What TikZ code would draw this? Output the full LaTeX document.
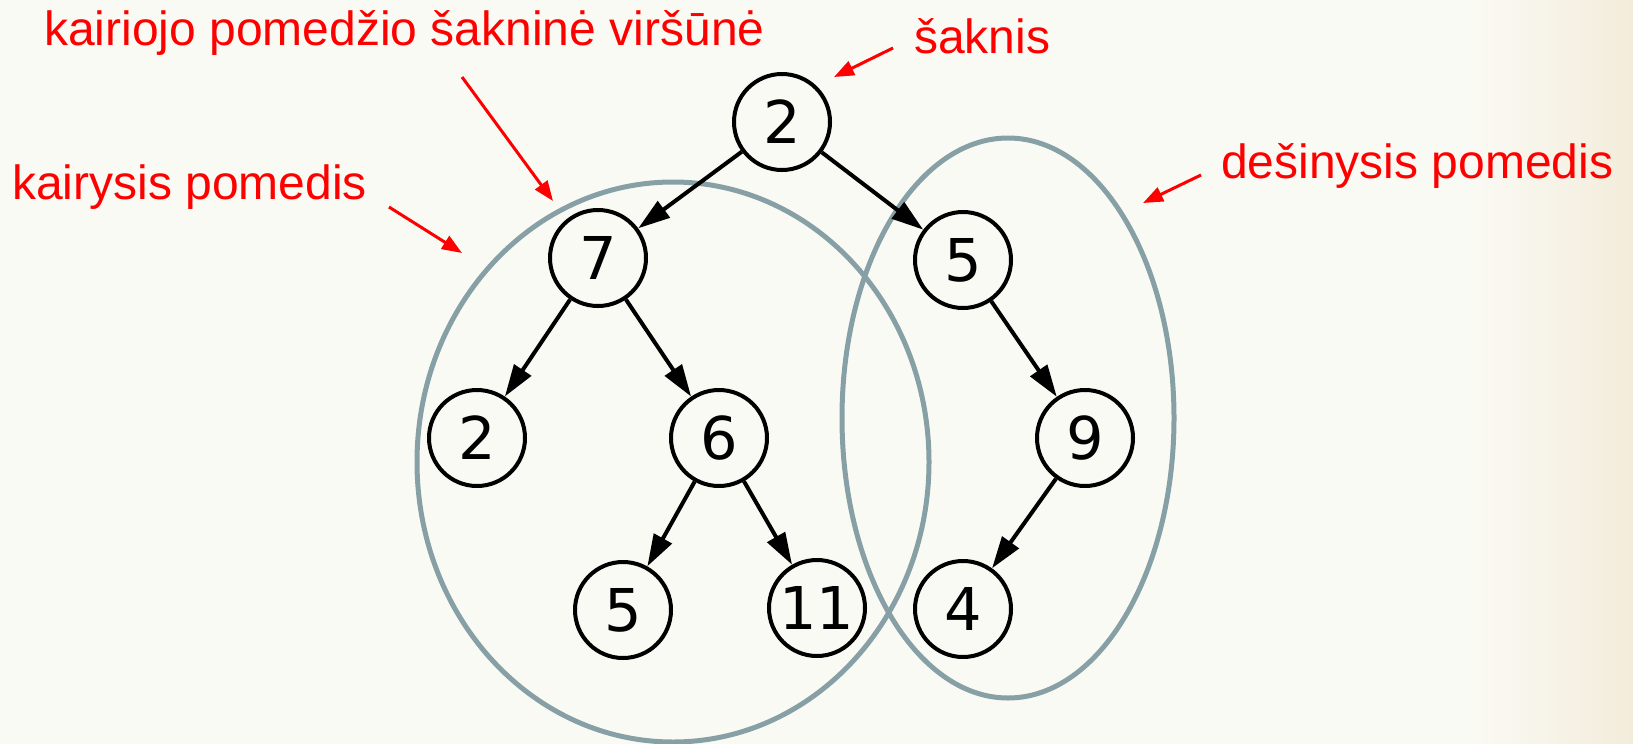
\documentclass[tikz,border=0pt]{standalone}
\usepackage{fontspec}
\setmainfont{Liberation Sans}
\newfontfamily\digitfont{DejaVu Sans}
\usetikzlibrary{arrows.meta}
\definecolor{ellgray}{HTML}{87A0A5}
\definecolor{bgbase}{HTML}{FAFAF4}
\definecolor{bgright}{HTML}{F3ECDB}
\begin{document}
\begin{tikzpicture}[x=1pt,y=-1pt,
  treenode/.style={circle, draw=black, line width=4pt, minimum size=96pt, inner sep=0pt,
    font=\digitfont\fontsize{59}{61}\selectfont},
  edge/.style={draw=black, line width=4pt, -{Triangle[length=32pt,width=20pt]}},
  redlabel/.style={text=red, font=\fontsize{48}{52}\selectfont, inner sep=0pt, anchor=base west},
  redarrow/.style={draw=red, line width=3pt, -{Triangle[length=20pt,width=15pt]}},
  subtree/.style={draw=ellgray, line width=5pt}]
\useasboundingbox (0,0) rectangle (1633,744);
\fill[bgbase] (0,0) rectangle (1633,744);
\shade[left color=bgbase, right color=bgright] (1470,0) rectangle (1633,744);

% subtree ellipses
\draw[subtree] (673,462) ellipse [x radius=256pt, y radius=280pt];
\draw[subtree] (1008,418) ellipse [x radius=166pt, y radius=280pt];

% tree nodes
\node[treenode] (r)  at (782,122) {2};
\node[treenode] (n7) at (598,258) {7};
\node[treenode] (n5) at (963,260) {5};
\node[treenode] (n2) at (477,438) {2};
\node[treenode] (n6) at (719,438) {6};
\node[treenode] (n9) at (1085,438) {9};
\node[treenode] (m5) at (623,610) {5};
\node[treenode] (n11) at (817,608) {11};
\node[treenode] (n4) at (963,609) {4};

\draw[edge] (r) -- (n7);
\draw[edge] (r) -- (n5);
\draw[edge] (n7) -- (n2);
\draw[edge] (n7) -- (n6);
\draw[edge] (n5) -- (n9);
\draw[edge] (n6) -- (m5);
\draw[edge] (n6) -- (n11);
\draw[edge] (n9) -- (n4);

% labels
\node[redlabel] (lroot) at (44,45) {kairiojo pomedžio šakninė viršūnė};
\node[redlabel] (lsak) at (914,53) {šaknis};
\node[redlabel] (lkair) at (12,199) {kairysis pomedis};
\node[redlabel] (ldes) at (1221,178) {dešinysis pomedis};

% red arrows
\coordinate (a1s) at (462,77);  \coordinate (a1e) at (553,201);
\coordinate (a2s) at (389,207); \coordinate (a2e) at (462,253);
\coordinate (a3s) at (893,48);  \coordinate (a3e) at (834,77);
\coordinate (a4s) at (1201,175); \coordinate (a4e) at (1143,203);
\draw[redarrow] (a1s) -- (a1e);
\draw[redarrow] (a2s) -- (a2e);
\draw[redarrow] (a3s) -- (a3e);
\draw[redarrow] (a4s) -- (a4e);
\end{tikzpicture}
\end{document}
